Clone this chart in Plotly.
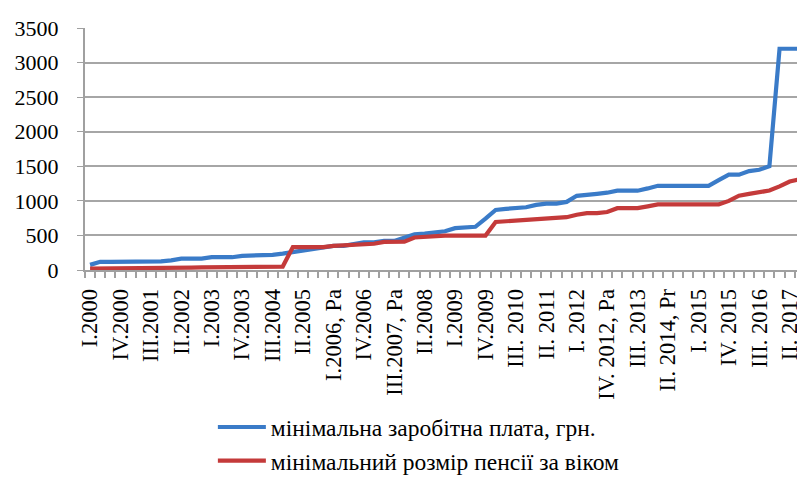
import plotly.graph_objects as go

# Quarterly categories I.2000 ... IV.2017
quarters = [f"{q}.{y}" for y in range(2000, 2018) for q in ("I", "II", "III", "IV")]

tick_labels = ["I.2000", "IV.2000", "III.2001", "II.2002", "I.2003", "IV.2003",
               "III.2004", "II.2005", "I.2006, Pa", "IV.2006", "III.2007, Pa",
               "II.2008", "I.2009", "IV.2009", "III. 2010", "II. 2011", "I. 2012",
               "IV. 2012, Pa", "III. 2013", "II. 2014, Pr", "I. 2015", "IV. 2015",
               "III. 2016", "II. 2017"]

min_wage = [74, 118, 118, 118,
            118, 118, 125, 125,
            140, 165, 165, 165,
            185, 185, 185, 205,
            205, 210, 220, 237,
            262, 290, 310, 332,
            350, 350, 375, 400,
            400, 420, 420, 460,
            515, 525, 540, 560,
            605, 610, 625, 744,
            869, 884, 888, 907,
            941, 960, 960, 985,
            1073, 1094, 1102, 1118,
            1147, 1147, 1147, 1180,
            1218, 1218, 1218, 1218,
            1218, 1218, 1300, 1378,
            1378, 1430, 1450, 1500,
            3200, 3200, 3200, 3200]

min_pension = [20, 20, 22, 25,
               25, 28, 30, 30,
               32, 35, 35, 38,
               40, 40, 42, 45,
               48, 50, 50, 50,
               332, 332, 332, 332,
               350, 359, 359, 366,
               380, 406, 406, 411,
               470, 481, 482, 498,
               498, 498, 498, 498,
               695, 706, 709, 723,
               734, 750, 750, 764,
               800, 822, 822, 838,
               894, 894, 894, 920,
               949, 949, 949, 949,
               949, 949, 949, 1000,
               1074, 1100, 1130, 1150,
               1210, 1280, 1312, 1330]

series_names = ["мінімальна заробітна плата, грн.",
                "мінімальний розмір пенсії за віком"]

x_idx = list(range(len(quarters)))
tick_pos = x_idx[::3][:len(tick_labels)]

FONT = "Liberation Serif"

fig = go.Figure()
fig.add_trace(go.Scatter(x=x_idx, y=min_wage, mode="lines", name=series_names[0],
                         legendgroup="wage",
                         line=dict(color="#3a7bc8", width=4.2), customdata=quarters))
fig.add_trace(go.Scatter(x=x_idx, y=min_pension, mode="lines", name=series_names[1],
                         legendgroup="pension",
                         line=dict(color="#c43a3a", width=4.2), customdata=quarters))

fig.update_layout(
    width=805, height=485,
    margin=dict(l=77, r=0, t=20, b=223, autoexpand=False),
    paper_bgcolor="white", plot_bgcolor="white",
    font=dict(family=FONT, size=22, color="black"),
    showlegend=True,
    legend=dict(xref="container", yref="container", x=0.2545, y=0.181,
                xanchor="left", yanchor="top", orientation="v",
                font=dict(family=FONT, size=23.5, color="black"),
                bgcolor="rgba(0,0,0,0)", itemwidth=48,
                tracegroupgap=19, traceorder="normal"),
)
fig.update_xaxes(
    range=[-0.5, 71.3], automargin=False,
    tickmode="array", tickvals=tick_pos, ticktext=tick_labels,
    tickangle=-90, ticks="", showgrid=False, zeroline=False,
    showline=True, linecolor="#a0a0a0", linewidth=2,
    ticklabelstandoff=8,
    tickfont=dict(family=FONT, size=22.5, color="black"),
    minor=dict(tickmode="linear", tick0=-0.5, dtick=1, ticks="outside",
               ticklen=6, tickcolor="#a0a0a0", tickwidth=1.5, showgrid=False),
)
fig.update_yaxes(
    range=[0, 3500], tickmode="linear", tick0=0, dtick=500, automargin=False,
    showgrid=True, gridcolor="#a6a6a6", gridwidth=1.6, zeroline=False,
    showline=True, linecolor="#a0a0a0", linewidth=2,
    ticks="outside", ticklen=6, tickcolor="#a0a0a0",
    ticklabelstandoff=14, tickfont=dict(family=FONT, size=22, color="black"),
)

fig.write_html("out.html")
